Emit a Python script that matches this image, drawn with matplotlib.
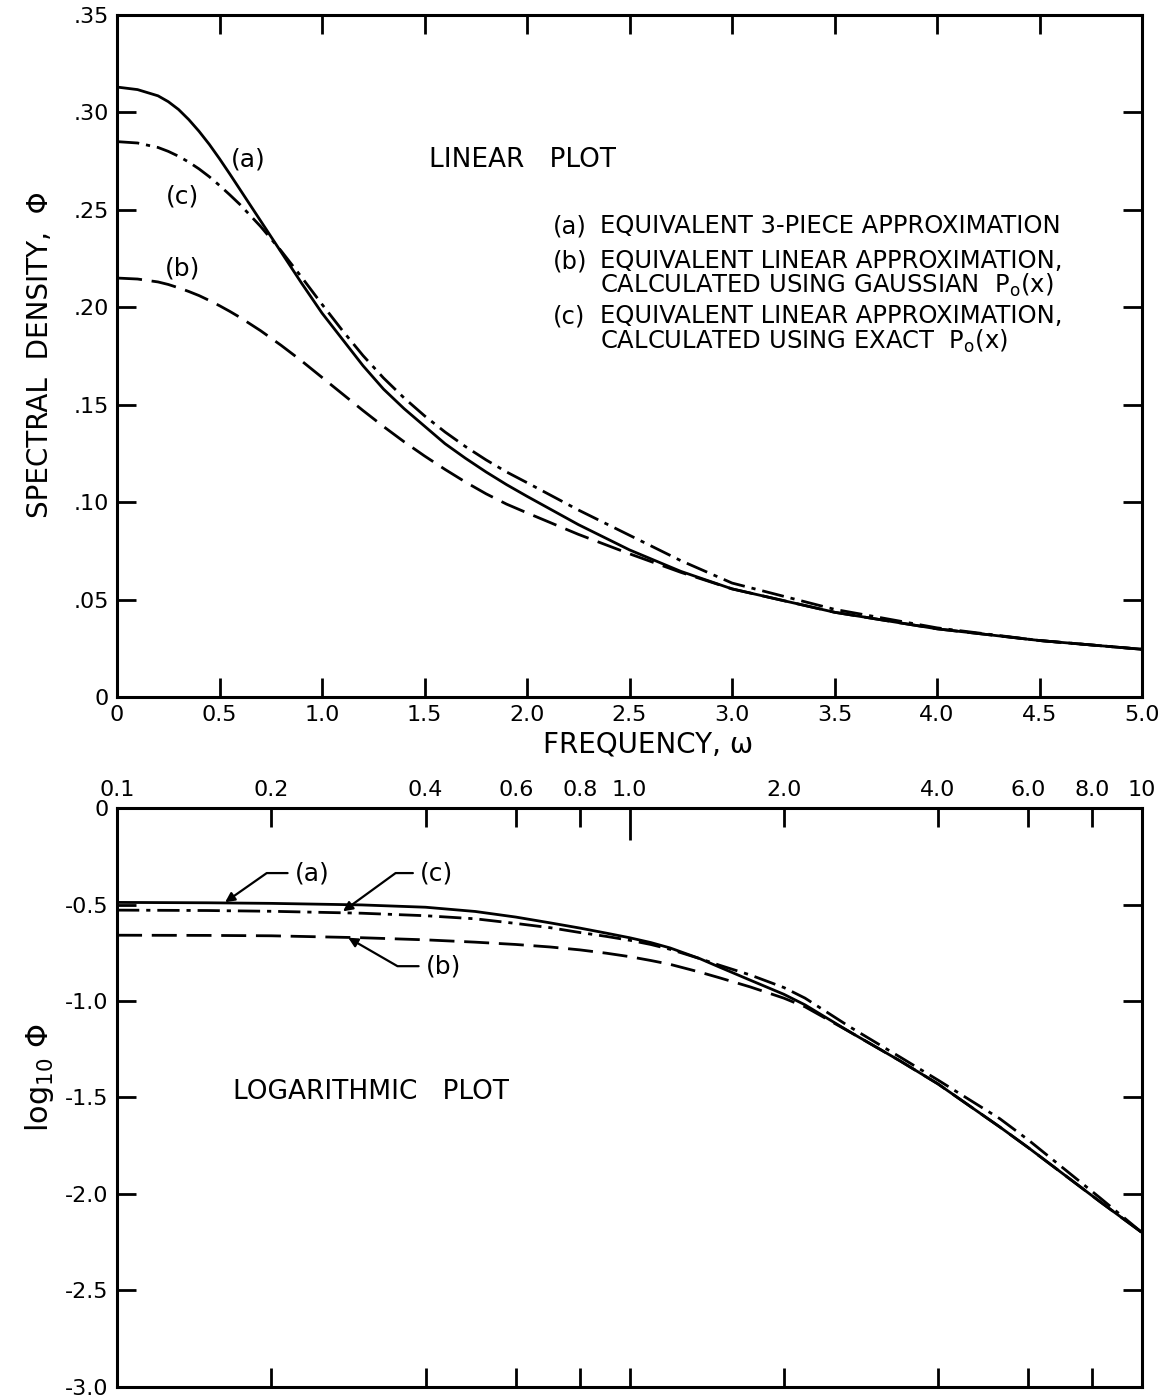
import numpy as np
import matplotlib
matplotlib.use("Agg")
import matplotlib.pyplot as plt

plt.rcParams['font.family'] = ['DejaVu Sans']
plt.rcParams['axes.unicode_minus'] = False

# linear plot
w_lin = [0, 0.1, 0.2, 0.25, 0.3, 0.35, 0.4, 0.45, 0.5, 0.55, 0.6, 0.7, 0.8, 0.9,
         1.0, 1.1, 1.2, 1.3, 1.4, 1.5, 1.6, 1.7, 1.8, 1.9, 2.0, 2.25, 2.5, 2.75,
         3.0, 3.5, 4.0, 4.5, 5.0]
phi_a = [0.313, 0.3117, 0.3085, 0.3055, 0.3015, 0.2963, 0.2903, 0.2836, 0.2762,
         0.2684, 0.2604, 0.2444, 0.2284, 0.2124, 0.197, 0.1835, 0.170, 0.158, 0.148,
         0.139, 0.130, 0.1225, 0.1155, 0.109, 0.103, 0.0885, 0.0755, 0.0645, 0.0555,
         0.0435, 0.035, 0.029, 0.0245]
phi_b = [0.215, 0.2145, 0.213, 0.2117, 0.2100, 0.2081, 0.2060, 0.2035, 0.2008,
         0.1979, 0.1948, 0.1880, 0.1805, 0.1725, 0.1640, 0.1555, 0.1470, 0.1388,
         0.1310, 0.1237, 0.1168, 0.1103, 0.1043, 0.0990, 0.0945, 0.0835, 0.0735,
         0.0640, 0.0555, 0.0435, 0.035, 0.029, 0.0245]
phi_c = [0.285, 0.2843, 0.282, 0.2800, 0.2775, 0.2745, 0.2710, 0.2670, 0.2625,
         0.2577, 0.2527, 0.2415, 0.2290, 0.2155, 0.2015, 0.1880, 0.1752, 0.1637,
         0.1535, 0.1443, 0.1360, 0.1285, 0.1217, 0.1155, 0.1100, 0.0960, 0.0830,
         0.0700, 0.0585, 0.0450, 0.0355, 0.029, 0.0245]

# log plot
w_log = [0.1, 0.15, 0.2, 0.3, 0.4, 0.5, 0.6, 0.7, 0.8, 0.9, 1.0, 1.1, 1.2, 1.37,
         1.5, 1.72, 2.0, 2.2, 2.69, 3.37, 4.0, 5.28, 6.0, 8.28, 10.0]
log_a = [-0.489, -0.491, -0.494, -0.502, -0.514, -0.536, -0.565, -0.595, -0.622,
         -0.648, -0.672, -0.697, -0.725, -0.780, -0.825, -0.892, -0.965, -1.020,
         -1.160, -1.310, -1.430, -1.653, -1.760, -2.040, -2.200]
log_b = [-0.659, -0.660, -0.662, -0.672, -0.683, -0.695, -0.707, -0.720, -0.735,
         -0.752, -0.770, -0.790, -0.810, -0.850, -0.880, -0.927, -0.985, -1.030,
         -1.160, -1.310, -1.430, -1.653, -1.760, -2.040, -2.200]
log_c = [-0.529, -0.531, -0.535, -0.545, -0.558, -0.574, -0.598, -0.620, -0.645,
         -0.665, -0.685, -0.707, -0.732, -0.780, -0.815, -0.865, -0.930, -0.985,
         -1.134, -1.290, -1.410, -1.610, -1.720, -2.020, -2.200]

lin_xticks = [0, 0.5, 1.0, 1.5, 2.0, 2.5, 3.0, 3.5, 4.0, 4.5, 5.0]
lin_xlabels = ['0', '0.5', '1.0', '1.5', '2.0', '2.5', '3.0', '3.5', '4.0', '4.5', '5.0']
lin_yticks = [0, 0.05, 0.10, 0.15, 0.20, 0.25, 0.30, 0.35]
lin_ylabels = ['0', '.05', '.10', '.15', '.20', '.25', '.30', '.35']
log_xticks = [0.1, 0.2, 0.4, 0.6, 0.8, 1.0, 2.0, 4.0, 6.0, 8.0, 10.0]
log_xlabels = ['0.1', '0.2', '0.4', '0.6', '0.8', '1.0', '2.0', '4.0', '6.0', '8.0', '10']
log_yticks = [0, -0.5, -1.0, -1.5, -2.0, -2.5, -3.0]
log_ylabels = ['0', '-0.5', '-1.0', '-1.5', '-2.0', '-2.5', '-3.0']

lw = 2.0
dash_b = (9, 3.5)
dash_c = (8, 2.5, 1.5, 2.5)
tick_fs = 16
note_fs = 18

fig = plt.figure(figsize=(11.67, 13.98), dpi=100)
ax1 = fig.add_axes([0.1003, 0.5014, 0.8783, 0.4879])
ax2 = fig.add_axes([0.1003, 0.0079, 0.8783, 0.4141])

# ---- linear plot
ax1.plot(w_lin, phi_a, color='k', lw=lw)
ax1.plot(w_lin, phi_b, color='k', lw=lw, dashes=dash_b)
ax1.plot(w_lin, phi_c, color='k', lw=lw, dashes=dash_c)
ax1.set_xlim(0, 5)
ax1.set_ylim(0, 0.35)
ax1.set_xticks(lin_xticks)
ax1.set_xticklabels(lin_xlabels)
ax1.set_yticks(lin_yticks)
ax1.set_yticklabels(lin_ylabels)
ax1.tick_params(direction='in', length=14, width=2, top=True, right=True,
                labelsize=tick_fs, pad=6)

ax1.text(0.64, 0.276, '(a)', fontsize=note_fs, ha='center', va='center')
ax1.text(0.317, 0.2566, '(c)', fontsize=note_fs, ha='center', va='center')
ax1.text(0.32, 0.220, '(b)', fontsize=note_fs, ha='center', va='center')
ax1.text(0.396, 0.787, 'LINEAR   PLOT', fontsize=19, ha='center', va='center',
         transform=ax1.transAxes)

# key, one text per entry
leg_x0 = (553 - 117) / 1025
leg_x1 = (600 - 117) / 1025
leg_fs = 17.5
rows = [
    ('(a)', 'EQUIVALENT 3-PIECE APPROXIMATION', 228),
    ('(b)', 'EQUIVALENT LINEAR APPROXIMATION,\n'
            r'CALCULATED USING GAUSSIAN  P$_\mathregular{o}$(x)', 263),
    ('(c)', 'EQUIVALENT LINEAR APPROXIMATION,\n'
            r'CALCULATED USING EXACT  P$_\mathregular{o}$(x)', 318),
]
for tag, txt, py in rows:
    yy = (697 - py) / 682 + 0.02
    ax1.text(leg_x0, yy, tag, fontsize=leg_fs, ha='left', va='top',
             transform=ax1.transAxes)
    ax1.text(leg_x1, yy, txt, fontsize=leg_fs, ha='left', va='top',
             linespacing=0.95, transform=ax1.transAxes)

# ---- logarithmic plot
ax2.plot(w_log, log_a, color='k', lw=lw)
ax2.plot(w_log, log_b, color='k', lw=lw, dashes=dash_b)
ax2.plot(w_log, log_c, color='k', lw=lw, dashes=dash_c)
ax2.set_xscale('log')
ax2.set_xlim(0.1, 10)
ax2.set_ylim(-3.0, 0)
ax2.set_xticks(log_xticks)
ax2.set_xticklabels(log_xlabels)
ax2.xaxis.set_minor_locator(matplotlib.ticker.NullLocator())
ax2.set_yticks(log_yticks)
ax2.set_yticklabels(log_ylabels)
ax2.tick_params(direction='in', length=14, width=2, top=True, right=True,
                labeltop=True, labelbottom=False, labelsize=tick_fs, pad=6)
ax2.xaxis.get_major_ticks()[5].tick2line.set_markersize(23)

ax2.text(0.248, 0.5095, 'LOGARITHMIC   PLOT', fontsize=19, ha='center',
         va='center', transform=ax2.transAxes)

arrow = dict(arrowstyle='-|>', color='k', lw=1.6, mutation_scale=14, shrinkA=3,
             shrinkB=0)
ax2.annotate('(a)', xy=(0.1625, -0.488), xytext=(0.240, -0.337), fontsize=note_fs,
             ha='center', va='center',
             arrowprops=dict(arrow, connectionstyle='angle,angleA=0,angleB=35,rad=0'))
ax2.annotate('(c)', xy=(0.276, -0.535), xytext=(0.420, -0.337), fontsize=note_fs,
             ha='center', va='center',
             arrowprops=dict(arrow, connectionstyle='angle,angleA=0,angleB=36,rad=0'))
ax2.annotate('(b)', xy=(0.2825, -0.672), xytext=(0.433, -0.8195), fontsize=note_fs,
             ha='center', va='center',
             arrowprops=dict(arrow, connectionstyle='angle,angleA=0,angleB=-30,rad=0'))

for ax in (ax1, ax2):
    for s in ax.spines.values():
        s.set_linewidth(2.2)

fig.text(0.555, 1 - 745 / 1398, 'FREQUENCY, ω', fontsize=20, ha='center',
         va='center')
fig.text(0.034, 1 - 355 / 1398, 'SPECTRAL  DENSITY,  Φ', fontsize=20,
         rotation=90, ha='center', va='center')
fig.text(0.034, 1 - 1078 / 1398, r'log$_\mathregular{10}$ Φ', fontsize=22,
         rotation=90, ha='center', va='center')

fig.savefig('out.png', dpi=100)
